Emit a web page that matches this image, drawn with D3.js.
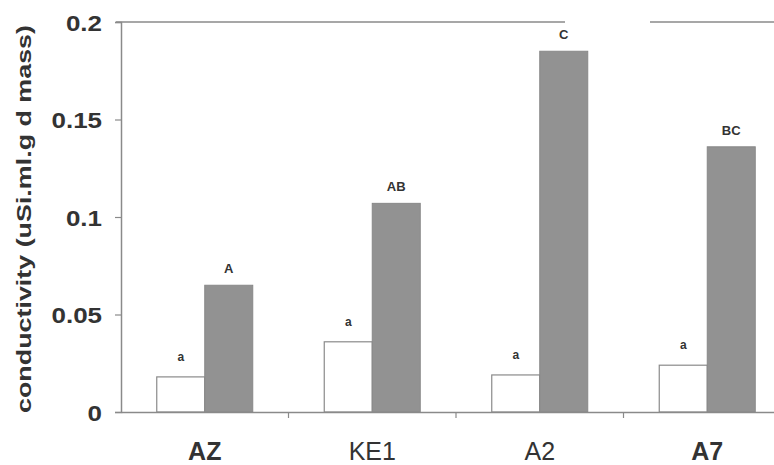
<!DOCTYPE html>
<html>
<head>
<meta charset="utf-8">
<script src="https://cdn.jsdelivr.net/npm/d3@7"></script>
<style>
  html, body { margin: 0; padding: 0; background: #fff; }
  svg { display: block; }
  text { font-family: "Liberation Sans", Arial, sans-serif; fill: #333; }
</style>
</head>
<body>
<svg id="chart" width="774" height="465"></svg>
<script>
const categories = ["AZ", "KE1", "A2", "A7"];
const whiteValues = [0.018, 0.036, 0.019, 0.024];
const grayValues = [0.065, 0.107, 0.185, 0.136];
const whiteLetters = ["a", "a", "a", "a"];
const grayLetters = ["A", "AB", "C", "BC"];
const yTicks = [0, 0.05, 0.1, 0.15, 0.2];
const yTickLabels = ["0", "0.05", "0.1", "0.15", "0.2"];
const yTitle = "conductivity (uSi.ml.g d mass)";

const svg = d3.select("#chart");
const mLeft = 121, mRight = 791, mTop = 22, mBottom = 412;

const x = d3.scaleBand().domain(categories).range([mLeft, mRight]).paddingInner(0).paddingOuter(0);
const y = d3.scaleLinear().domain([0, 0.2]).range([mBottom, mTop]);
const barW = 48;
const axisColor = "#8a8a8a";

// top border (with scanner gap)
svg.append("line").attr("x1", 116).attr("x2", 565).attr("y1", y(0.2)).attr("y2", y(0.2))
  .attr("stroke", axisColor).attr("stroke-width", 1.5);
svg.append("line").attr("x1", 650).attr("x2", 774).attr("y1", y(0.2)).attr("y2", y(0.2))
  .attr("stroke", axisColor).attr("stroke-width", 1.5);

// bars
const g = svg.append("g");
g.selectAll("rect.white").data(categories).join("rect")
  .attr("class", "white")
  .attr("x", d => x(d) + x.bandwidth() / 2 - barW)
  .attr("y", (d, i) => y(whiteValues[i]))
  .attr("width", barW)
  .attr("height", (d, i) => y(0) - y(whiteValues[i]))
  .attr("fill", "#fff").attr("stroke", "#8a8a8a").attr("stroke-width", 1.2);

g.selectAll("rect.gray").data(categories).join("rect")
  .attr("class", "gray")
  .attr("x", d => x(d) + x.bandwidth() / 2)
  .attr("y", (d, i) => y(grayValues[i]))
  .attr("width", barW)
  .attr("height", (d, i) => y(0) - y(grayValues[i]))
  .attr("fill", "#929292").attr("stroke", "#888").attr("stroke-width", 1);

// letters
g.selectAll("text.wl").data(categories).join("text")
  .attr("class", "wl")
  .attr("x", d => x(d) + x.bandwidth() / 2 - barW / 2)
  .attr("y", (d, i) => y(whiteValues[i]) - 16)
  .attr("text-anchor", "middle").style("font-size", "12px").style("font-weight", "bold")
  .text((d, i) => whiteLetters[i]);
g.selectAll("text.gl").data(categories).join("text")
  .attr("class", "gl")
  .attr("x", d => x(d) + x.bandwidth() / 2 + barW / 2)
  .attr("y", (d, i) => y(grayValues[i]) - 12)
  .attr("text-anchor", "middle").style("font-size", "13px").style("font-weight", "bold")
  .text((d, i) => grayLetters[i]);

// y axis
const yAxis = d3.axisLeft(y).tickValues(yTicks).tickFormat((d, i) => yTickLabels[i]).tickSize(6).tickPadding(0);
const ya = svg.append("g").attr("transform", `translate(${mLeft},0)`).call(yAxis);
ya.select(".domain").attr("stroke", axisColor).attr("stroke-width", 1.5);
ya.selectAll(".tick line").attr("stroke", axisColor).attr("stroke-width", 1.2);
ya.selectAll(".tick text")
  .attr("x", null).attr("dy", null)
  .attr("font-family", null).attr("font-size", null)
  .style("font-size", "22px").style("font-weight", "bold").style("fill", "#333")
  .attr("transform", "translate(-19,8) scale(1.18,1)")
  .attr("text-anchor", "end");

// x axis
const xAxis = d3.axisBottom(x).tickSize(0).tickPadding(0);
const xa = svg.append("g").attr("transform", `translate(0,${mBottom})`).call(xAxis);
xa.select(".domain").attr("stroke", axisColor).attr("stroke-width", 1.5);
xa.selectAll(".tick text").attr("y", 48).attr("dy", null)
  .attr("font-family", null).attr("font-size", null)
  .style("font-size", "25px").style("fill", "#333")
  .style("font-weight", (d, i) => (i === 1 || i === 2) ? "normal" : "bold");
// boundary ticks between categories
svg.selectAll("line.sep").data(categories.slice(1)).join("line")
  .attr("class", "sep")
  .attr("x1", d => x(d)).attr("x2", d => x(d))
  .attr("y1", mBottom).attr("y2", mBottom + 6)
  .attr("stroke", axisColor).attr("stroke-width", 1.2);

// y title
svg.append("text")
  .attr("transform", `translate(31,${(mTop + mBottom) / 2 + 2}) rotate(-90)`)
  .attr("text-anchor", "middle")
  .style("font-size", "20px").style("font-weight", "bold")
  .attr("textLength", 388).attr("lengthAdjust", "spacingAndGlyphs")
  .text(yTitle);
</script>
</body>
</html>
